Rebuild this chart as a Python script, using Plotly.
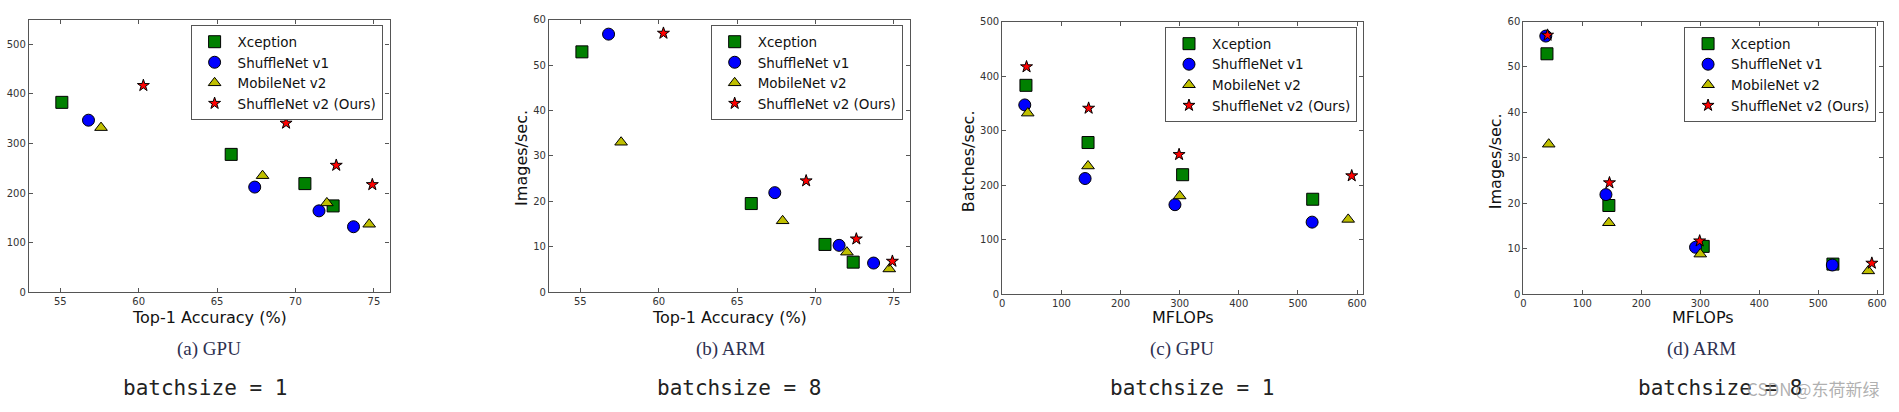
import plotly.graph_objects as go

# ---------------- data ----------------
series_names = ["Xception", "ShuffleNet v1", "MobileNet v2", "ShuffleNet v2 (Ours)"]

xception_acc = [55.1, 65.9, 70.6, 72.4]
xception_mflops = [40, 145, 305, 525]
xception_gpu = [383, 278, 219, 174]
xception_arm = [52.9, 19.5, 10.5, 6.6]

shufflev1_acc = [56.8, 67.4, 71.5, 73.7]
shufflev1_mflops = [38, 140, 292, 524]
shufflev1_gpu = [347, 212, 164, 132]
shufflev1_arm = [56.8, 21.9, 10.3, 6.4]

mobilev2_acc = [57.6, 67.9, 72.0, 74.7]
mobilev2_mflops = [43, 145, 300, 585]
mobilev2_gpu = [332, 235, 180, 137]
mobilev2_arm = [33.0, 15.7, 8.8, 5.1]

shufflev2_acc = [60.3, 69.4, 72.6, 74.9]
shufflev2_mflops = [41, 146, 299, 591]
shufflev2_gpu = [417, 341, 256, 217]
shufflev2_arm = [57.0, 24.5, 11.7, 6.8]

panel_captions = ["(a) GPU", "(b) ARM", "(c) GPU", "(d) ARM"]
batch_labels = ["batchsize = 1", "batchsize = 8", "batchsize = 1", "batchsize = 8"]
x_titles = ["Top-1 Accuracy (%)", "Top-1 Accuracy (%)", "MFLOPs", "MFLOPs"]
y_titles = ["", "Images/sec.", "Batches/sec.", "Images/sec."]
watermark = "CSDN @东荷新绿"

# ---------------- styling ----------------
W, H = 1899, 412
styles = [
    dict(symbol="square", color="#008000", size=12),
    dict(symbol="circle", color="#0000ff", size=12),
    dict(symbol="triangle-up", color="#bfbf00", size=11),
    dict(symbol="star", color="#ff0000", size=9),
]

acc_sets = [xception_acc, shufflev1_acc, mobilev2_acc, shufflev2_acc]
flop_sets = [xception_mflops, shufflev1_mflops, mobilev2_mflops, shufflev2_mflops]
gpu_sets = [xception_gpu, shufflev1_gpu, mobilev2_gpu, shufflev2_gpu]
arm_sets = [xception_arm, shufflev1_arm, mobilev2_arm, shufflev2_arm]

panels = [
    dict(x=acc_sets, y=gpu_sets, xr=[53, 76], yr=[0, 550], xt=[55, 60, 65, 70, 75], yt=[0, 100, 200, 300, 400, 500],
         px=(26, 388), py=(15, 295), leg=(381, 21)),
    dict(x=acc_sets, y=arm_sets, xr=[53, 76], yr=[0, 60], xt=[55, 60, 65, 70, 75], yt=[0, 10, 20, 30, 40, 50, 60],
         px=(548, 910), py=(15, 295), leg=(903, 21)),
    dict(x=flop_sets, y=gpu_sets, xr=[0, 610], yr=[0, 500], xt=[0, 100, 200, 300, 400, 500, 600], yt=[0, 100, 200, 300, 400, 500],
         px=(1003, 1365), py=(17, 297), leg=(1359, 23)),
    dict(x=flop_sets, y=arm_sets, xr=[0, 610], yr=[0, 60], xt=[0, 100, 200, 300, 400, 500, 600], yt=[0, 10, 20, 30, 40, 50, 60],
         px=(1526, 1887), py=(17, 297), leg=(1880, 23)),
]

ytitle_pos = [None, (521, 157), (969, 160), (1498, 160)]
caption_x = [207, 730, 1183, 1705]
batch_x = [203, 739, 1193, 1723]

fig = go.Figure()
layout = dict(
    width=W, height=H, margin=dict(l=0, r=0, t=0, b=0),
    paper_bgcolor="white", plot_bgcolor="white",
    font=dict(family="DejaVu Sans", color="#111"),
    showlegend=True,
)
annotations = []

for i, p in enumerate(panels):
    k = "" if i == 0 else str(i + 1)
    xa, ya = "x" + k, "y" + k
    legname = "legend" + k
    for j, name in enumerate(series_names):
        st = styles[j]
        fig.add_trace(go.Scatter(
            x=p["x"][j], y=p["y"][j], mode="markers", name=name,
            xaxis=xa, yaxis=ya, legend=legname, cliponaxis=False,
            marker=dict(symbol=st["symbol"], color=st["color"], size=st["size"],
                        line=dict(color="black", width=1)),
        ))
    axis_common = dict(
        showgrid=False, zeroline=False, showline=True, linecolor="#555", linewidth=1.2,
        mirror="allticks", ticks="inside", ticklen=4, tickcolor="#555", tickwidth=1,
        tickfont=dict(family="DejaVu Sans", size=10, color="#333"),
    )
    layout["xaxis" + k] = dict(axis_common, domain=[p["px"][0] / W, p["px"][1] / W], range=p["xr"],
                               tickvals=p["xt"], anchor=ya)
    layout["yaxis" + k] = dict(axis_common, domain=[1 - p["py"][1] / H, 1 - p["py"][0] / H], range=p["yr"],
                               tickvals=p["yt"], anchor=xa)
    layout[legname] = dict(
        x=p["leg"][0] / W, y=1 - p["leg"][1] / H, xanchor="right", yanchor="top",
        bgcolor="white", bordercolor="#555", borderwidth=1, itemwidth=36,
        font=dict(family="DejaVu Sans", size=13.5, color="#111"), tracegroupgap=0,
    )
    xc = (p["px"][0] + p["px"][1]) / 2
    annotations.append(dict(text=x_titles[i], x=xc / W, y=1 - 321 / H, xref="paper", yref="paper",
                            showarrow=False, font=dict(size=16, family="DejaVu Sans", color="#111"),
                            xanchor="center", yanchor="middle"))
    if ytitle_pos[i]:
        annotations.append(dict(text=y_titles[i], x=ytitle_pos[i][0] / W, y=1 - ytitle_pos[i][1] / H,
                                xref="paper", yref="paper", showarrow=False, textangle=-90,
                                font=dict(size=16, family="DejaVu Sans", color="#111"),
                                xanchor="center", yanchor="middle"))
    annotations.append(dict(text=panel_captions[i], x=caption_x[i] / W, y=1 - 353 / H, xref="paper", yref="paper",
                            showarrow=False, font=dict(size=19, family="Liberation Serif", color="#2e3050"),
                            xanchor="center", yanchor="middle"))
    annotations.append(dict(text=batch_labels[i], x=batch_x[i] / W, y=1 - 394 / H, xref="paper", yref="paper",
                            showarrow=False, font=dict(size=21, family="DejaVu Sans Mono", color="#222"),
                            xanchor="center", yanchor="middle"))

annotations.append(dict(text=watermark, x=1748 / W, y=1 - 394 / H, xref="paper", yref="paper",
                        showarrow=False, font=dict(size=17, family="Noto Sans CJK SC", color="rgba(150,150,150,0.75)"),
                        xanchor="left", yanchor="middle"))

layout["annotations"] = annotations
fig.update_layout(**layout)
fig.write_html(
    "out.html",
    config={"displayModeBar": False},
    post_script="document.body.style.margin='0';document.body.style.padding='0';"
                "document.body.style.overflow='hidden';document.documentElement.style.overflow='hidden';",
)
